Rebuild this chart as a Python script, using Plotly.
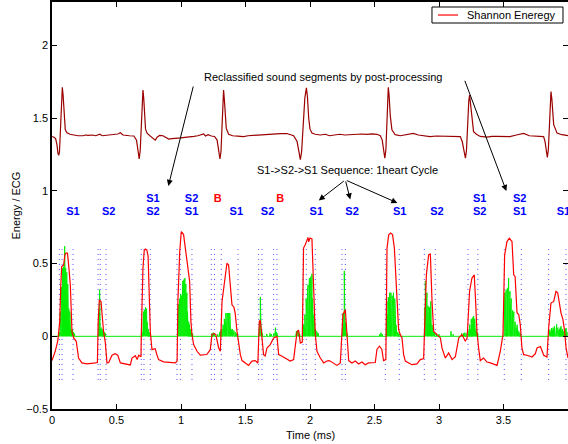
import plotly.graph_objects as go

# ---------------- data ----------------
ecg_t = [0.000,0.015,0.028,0.038,0.046,0.052,0.058,0.066,0.074,0.080,0.086,0.094,0.103,0.116,0.140,0.170,0.200,0.240,0.260,0.280,0.310,0.340,0.370,0.390,0.420,0.450,0.480,0.510,0.530,0.550,0.600,0.635,0.655,0.668,0.676,0.684,0.692,0.700,0.705,0.711,0.718,0.725,0.738,0.762,0.785,0.800,0.815,0.835,0.860,0.880,0.905,0.930,0.960,0.980,1.000,1.030,1.070,1.100,1.130,1.160,1.175,1.190,1.210,1.235,1.260,1.280,1.292,1.302,1.310,1.318,1.325,1.330,1.336,1.343,1.351,1.369,1.400,1.440,1.485,1.520,1.560,1.600,1.650,1.690,1.730,1.770,1.820,1.850,1.873,1.900,1.915,1.925,1.935,1.948,1.960,1.972,1.980,1.990,2.000,2.015,2.040,2.080,2.120,2.150,2.190,2.230,2.270,2.310,2.350,2.400,2.440,2.480,2.520,2.545,2.560,2.572,2.580,2.588,2.595,2.602,2.607,2.613,2.622,2.635,2.660,2.700,2.730,2.760,2.800,2.840,2.880,2.930,2.980,3.030,3.080,3.120,3.165,3.180,3.195,3.205,3.213,3.222,3.231,3.237,3.244,3.255,3.268,3.290,3.320,3.372,3.410,3.450,3.500,3.550,3.600,3.656,3.700,3.750,3.811,3.822,3.832,3.840,3.848,3.855,3.862,3.868,3.875,3.882,3.889,3.915,3.953,4.000]
ecg_v = [1.375,1.370,1.360,1.320,1.260,1.245,1.270,1.450,1.620,1.713,1.660,1.520,1.420,1.400,1.390,1.385,1.380,1.380,1.385,1.382,1.385,1.380,1.390,1.380,1.382,1.385,1.390,1.392,1.400,1.385,1.380,1.378,1.350,1.270,1.220,1.280,1.480,1.650,1.694,1.640,1.500,1.425,1.396,1.378,1.360,1.350,1.370,1.383,1.380,1.370,1.357,1.360,1.360,1.360,1.365,1.368,1.370,1.375,1.380,1.390,1.393,1.378,1.387,1.378,1.375,1.350,1.290,1.220,1.270,1.460,1.640,1.694,1.630,1.500,1.430,1.390,1.380,1.377,1.374,1.380,1.383,1.385,1.388,1.390,1.392,1.395,1.395,1.385,1.380,1.340,1.270,1.215,1.270,1.470,1.640,1.710,1.650,1.500,1.425,1.398,1.390,1.385,1.390,1.380,1.385,1.390,1.385,1.388,1.390,1.392,1.390,1.393,1.390,1.380,1.350,1.270,1.225,1.280,1.480,1.660,1.713,1.660,1.520,1.420,1.387,1.380,1.385,1.390,1.396,1.385,1.380,1.374,1.378,1.376,1.378,1.375,1.374,1.340,1.270,1.225,1.280,1.470,1.620,1.660,1.600,1.470,1.408,1.390,1.375,1.370,1.376,1.376,1.376,1.374,1.385,1.396,1.380,1.376,1.374,1.340,1.280,1.230,1.290,1.480,1.630,1.684,1.630,1.520,1.456,1.398,1.387,1.380]

energy_t = [0.000,0.026,0.045,0.060,0.068,0.075,0.090,0.100,0.108,0.120,0.128,0.135,0.142,0.155,0.168,0.188,0.200,0.206,0.232,0.271,0.336,0.352,0.358,0.367,0.380,0.392,0.400,0.413,0.426,0.440,0.465,0.490,0.510,0.530,0.570,0.607,0.620,0.646,0.660,0.672,0.690,0.692,0.705,0.715,0.723,0.735,0.745,0.755,0.762,0.775,0.800,0.813,0.826,0.865,0.956,0.970,0.976,0.990,1.002,1.020,1.033,1.051,1.067,1.077,1.085,1.098,1.124,1.150,1.200,1.227,1.240,1.255,1.270,1.292,1.305,1.318,1.330,1.343,1.356,1.369,1.382,1.395,1.410,1.420,1.434,1.447,1.460,1.473,1.498,1.524,1.550,1.575,1.596,1.607,1.615,1.627,1.640,1.653,1.666,1.692,1.718,1.744,1.757,1.780,1.821,1.847,1.873,1.886,1.900,1.912,1.925,1.940,1.950,1.963,1.976,1.985,1.990,2.000,2.015,2.028,2.041,2.054,2.080,2.106,2.130,2.150,2.183,2.209,2.235,2.255,2.274,2.287,2.300,2.325,2.351,2.377,2.403,2.428,2.454,2.506,2.519,2.539,2.557,2.570,2.588,2.597,2.610,2.625,2.640,2.654,2.674,2.687,2.700,2.713,2.726,2.739,2.765,2.790,2.829,2.855,2.881,2.889,2.902,2.920,2.933,2.946,2.959,2.985,3.011,3.023,3.049,3.075,3.101,3.127,3.153,3.178,3.204,3.218,3.237,3.255,3.273,3.284,3.294,3.307,3.320,3.346,3.372,3.398,3.424,3.450,3.475,3.496,3.509,3.527,3.545,3.566,3.579,3.590,3.605,3.618,3.630,3.643,3.656,3.682,3.721,3.747,3.760,3.786,3.812,3.837,3.850,3.868,3.889,3.907,3.920,3.935,3.946,3.961,3.974,3.985,4.000]
energy_v = [-0.167,-0.100,-0.030,0.100,0.350,0.480,0.490,0.560,0.572,0.572,0.500,0.400,0.355,0.030,-0.011,-0.034,-0.120,-0.149,-0.183,-0.190,-0.183,-0.180,0.100,0.250,0.240,0.120,0.030,-0.040,-0.183,-0.180,-0.130,-0.120,-0.130,-0.183,-0.193,-0.197,-0.150,-0.133,-0.160,-0.130,-0.140,0.000,0.470,0.590,0.600,0.595,0.550,0.100,0.034,-0.092,-0.085,-0.126,-0.160,-0.176,-0.183,-0.170,0.240,0.580,0.720,0.700,0.607,0.492,0.378,0.103,0.012,-0.057,-0.103,-0.130,-0.125,-0.092,0.012,0.020,0.012,-0.080,-0.103,0.240,0.330,0.400,0.503,0.490,0.378,0.217,0.200,0.160,0.034,-0.057,-0.126,-0.167,-0.183,-0.200,-0.170,-0.167,-0.183,0.103,0.110,0.012,-0.126,-0.135,-0.080,-0.057,-0.011,0.000,-0.126,-0.135,-0.153,-0.170,-0.160,-0.080,0.034,0.040,-0.046,-0.040,0.607,0.630,0.660,0.680,0.650,0.676,0.670,0.355,0.012,-0.103,-0.149,-0.183,-0.170,-0.167,-0.183,-0.200,-0.183,0.149,0.183,0.012,-0.167,-0.183,-0.170,-0.190,-0.177,-0.195,-0.183,-0.180,-0.090,-0.068,-0.090,-0.167,-0.160,0.607,0.698,0.710,0.700,0.607,0.286,0.046,0.012,-0.011,-0.126,-0.170,-0.183,-0.195,-0.190,-0.160,-0.153,0.030,0.423,0.561,0.566,0.240,0.034,0.012,-0.011,-0.080,-0.149,-0.115,-0.160,-0.140,-0.011,0.012,-0.034,-0.011,0.310,0.400,0.423,0.240,0.034,-0.080,-0.167,-0.150,-0.177,-0.183,-0.190,-0.200,-0.103,0.012,0.561,0.652,0.675,0.652,0.423,0.410,0.160,0.150,0.080,-0.080,-0.126,-0.130,-0.142,-0.120,-0.080,-0.070,-0.130,-0.142,0.057,0.229,0.240,0.310,0.300,0.217,0.160,0.115,0.034,-0.080,-0.149]

pcg_t = [0.058,0.064,0.069,0.073,0.078,0.082,0.086,0.090,0.094,0.098,0.102,0.106,0.110,0.114,0.118,0.122,0.126,0.130,0.134,0.138,0.142,0.146,0.152,0.158,0.166,0.175,
         0.362,0.366,0.369,0.373,0.377,0.382,0.388,0.395,0.405,0.415,
         0.698,0.705,0.709,0.713,0.717,0.721,0.725,0.729,0.733,0.737,0.741,0.746,0.752,0.760,
         0.978,0.982,0.986,0.990,0.994,0.998,1.002,1.006,1.010,1.014,1.018,1.022,1.026,1.030,1.034,1.038,1.042,1.046,1.050,1.055,1.060,1.066,1.072,1.080,1.090,
         1.240,1.250,1.260,1.285,1.300,1.310,
         1.318,1.325,1.330,1.336,1.342,1.348,1.353,1.358,1.363,1.368,1.373,1.378,1.383,1.388,1.393,1.398,1.405,1.410,1.420,1.430,
         1.605,1.610,1.615,1.620,1.626,1.632,
         1.665,1.690,1.700,1.720,1.728,1.733,1.738,1.745,
         1.890,1.895,1.900,1.905,1.912,1.920,
         1.944,1.950,1.955,1.960,1.965,1.970,1.975,1.980,1.985,1.990,1.995,2.000,2.005,2.010,2.015,2.020,2.025,2.030,2.035,2.040,2.046,2.055,2.065,
         2.252,2.257,2.262,2.266,2.270,2.275,2.280,2.290,
         2.540,2.550,2.560,
         2.592,2.597,2.602,2.607,2.612,2.617,2.622,2.627,2.632,2.637,2.642,2.647,2.652,2.657,2.662,2.667,2.672,2.680,2.690,
         2.887,2.891,2.894,2.898,2.902,2.907,2.911,2.915,2.920,2.924,2.928,2.932,2.936,2.940,2.945,2.950,2.958,2.966,
         2.980,3.000,3.093,3.110,3.175,3.190,3.200,3.210,
         3.232,3.238,3.244,3.250,3.256,3.262,3.268,3.272,3.277,3.282,3.288,3.294,3.300,
         3.505,3.510,3.515,3.520,3.525,3.530,3.535,3.540,3.545,3.550,3.555,3.560,3.565,3.570,3.575,3.580,3.585,3.590,3.597,3.605,3.612,3.620,3.630,
         3.855,3.860,3.866,3.872,3.878,3.884,3.890,3.895,3.900,3.907,3.912,3.917,3.922,3.928,3.934,3.940,3.946,3.952,3.958,3.964,3.970,3.978,3.985,3.992]
pcg_v = [0.03,0.17,0.10,0.34,0.20,0.47,0.30,0.48,0.35,0.62,0.40,0.47,0.28,0.44,0.25,0.36,0.18,0.19,0.12,0.17,0.08,0.05,0.04,0.05,0.03,0.02,
         0.05,0.12,0.32,0.10,0.05,0.06,0.04,0.05,0.03,0.02,
         0.03,0.08,0.17,0.10,0.18,0.12,0.20,0.14,0.19,0.10,0.08,0.05,0.03,0.02,
         0.10,0.22,0.14,0.26,0.18,0.29,0.20,0.28,0.24,0.38,0.30,0.39,0.33,0.40,0.30,0.36,0.25,0.30,0.17,0.16,0.10,0.08,0.05,0.03,0.02,
         0.02,0.025,0.02,0.015,0.03,0.04,
         0.05,0.08,0.06,0.12,0.10,0.16,0.12,0.16,0.13,0.16,0.12,0.16,0.07,0.05,0.04,0.05,0.03,0.04,0.03,0.02,
         0.06,0.10,0.27,0.08,0.04,0.02,
         0.015,0.02,0.015,0.02,0.03,0.06,0.03,0.02,
         0.02,0.035,0.03,0.04,0.03,0.015,
         0.03,0.08,0.06,0.15,0.10,0.26,0.18,0.30,0.355,0.25,0.40,0.30,0.41,0.35,0.43,0.26,0.22,0.15,0.10,0.05,0.04,0.03,0.02,
         0.05,0.16,0.08,0.45,0.12,0.10,0.05,0.02,
         0.015,0.025,0.015,
         0.10,0.24,0.15,0.27,0.20,0.30,0.22,0.30,0.20,0.28,0.19,0.30,0.18,0.26,0.15,0.08,0.05,0.03,0.02,
         0.05,0.20,0.38,0.15,0.25,0.30,0.12,0.21,0.10,0.20,0.195,0.12,0.24,0.10,0.08,0.05,0.03,0.02,
         0.02,0.015,0.034,0.015,0.02,0.02,0.025,0.02,
         0.04,0.08,0.05,0.12,0.08,0.13,0.14,0.10,0.12,0.06,0.05,0.03,0.02,
         0.10,0.30,0.20,0.32,0.25,0.33,0.28,0.40,0.30,0.31,0.20,0.26,0.15,0.18,0.12,0.17,0.09,0.10,0.06,0.08,0.04,0.03,0.02,
         0.03,0.046,0.03,0.057,0.04,0.06,0.05,0.069,0.045,0.07,0.085,0.05,0.06,0.04,0.05,0.06,0.069,0.04,0.05,0.034,0.03,0.045,0.057,0.03]

boundary_t = [0.057,0.078,0.163,0.357,0.374,0.419,0.692,0.713,0.762,0.969,0.995,1.085,1.235,1.260,1.312,1.442,1.602,1.628,1.718,1.744,1.946,1.971,2.041,2.248,2.274,2.584,2.692,2.886,2.971,3.225,3.301,3.506,3.638,3.850,3.984]
boundary_low, boundary_high = -0.3, 0.6

label_text = ["S1","S2","S1","S2","S2","S1","B","S1","S2","B","S1","S2","S1","S2","S1","S2","S2","S1","S1"]
label_t = [0.163,0.439,0.783,0.783,1.082,1.082,1.284,1.429,1.671,1.770,2.049,2.326,2.695,2.984,3.315,3.315,3.625,3.625,3.965]
label_v = [0.852,0.852,0.944,0.852,0.944,0.852,0.944,0.852,0.852,0.944,0.852,0.852,0.852,0.852,0.944,0.852,0.944,0.852,0.852]

x_ticks = [0, 0.5, 1, 1.5, 2, 2.5, 3, 3.5, 4]
y_ticks = [-0.5, 0, 0.5, 1, 1.5, 2]
legend_label = "Shannon Eneregy"

# ---------------- figure ----------------
FONT = "Liberation Sans, Arial, Helvetica, sans-serif"
fig = go.Figure()

# segment boundaries (blue dotted)
bx, by = [], []
for t in boundary_t:
    bx += [t, t, None]
    by += [boundary_low, boundary_high, None]
fig.add_trace(go.Scatter(x=bx, y=by, mode="lines", showlegend=False, hoverinfo="skip",
                         line=dict(color="#4a4aff", width=1, dash="1px,4px")))

# heart sound (green): stems from baseline
pairs = sorted(zip(pcg_t, pcg_v))
gx, gy = [0.0], [0.0]
for t, v in pairs:
    gx += [t - 0.0012, t, t + 0.0012]
    gy += [0.0, v, 0.0]
gx.append(4.0); gy.append(0.0)
fig.add_trace(go.Scatter(x=gx, y=gy, mode="lines", showlegend=False,
                         line=dict(color="#00ee00", width=1)))

# Shannon energy (red)
fig.add_trace(go.Scatter(x=energy_t, y=energy_v, mode="lines", name=legend_label, showlegend=False,
                         line=dict(color="#ff0000", width=1.2)))

# ECG (dark red)
fig.add_trace(go.Scatter(x=ecg_t, y=ecg_v, mode="lines", showlegend=False,
                         line=dict(color="#9a0000", width=1.2)))

# labels
label_colors = ["#ff0000" if s == "B" else "#0000ff" for s in label_text]
fig.add_trace(go.Scatter(x=label_t, y=label_v, mode="text", text=label_text, showlegend=False,
                         textfont=dict(family=FONT, size=11, color=label_colors, weight="bold"),
                         textposition="middle center", hoverinfo="skip"))

# annotations
fig.add_annotation(x=2.104, y=1.786, text="Reclassified sound segments by post-processing",
                   showarrow=False, font=dict(family=FONT, size=11, color="black"))
fig.add_annotation(x=2.289, y=1.145, text="S1->S2->S1 Sequence: 1heart Cycle",
                   showarrow=False, font=dict(family=FONT, size=11, color="black"))

arrows = [  # (tail_t, tail_v, head_t, head_v)
    (1.098, 1.729, 0.902, 1.035),
    (3.196, 1.768, 3.522, 1.000),
    (2.274, 1.076, 2.068, 0.935),
    (2.274, 1.076, 2.312, 0.942),
    (2.274, 1.076, 2.677, 0.918),
]
for at, av, ht, hv in arrows:
    fig.add_annotation(x=ht, y=hv, ax=at, ay=av, xref="x", yref="y", axref="x", ayref="y",
                       text="", showarrow=True, arrowhead=2, arrowsize=1.2, arrowwidth=1,
                       arrowcolor="black")

# legend box (MATLAB-style, compact)
fig.add_shape(type="rect", xref="paper", yref="paper", x0=0.7364, x1=0.9903, y0=0.9484, y1=0.9877,
              line=dict(color="black", width=1), fillcolor="white", layer="above")
fig.add_shape(type="line", xref="paper", yref="paper", x0=0.748, x1=0.7868, y0=0.968, y1=0.968,
              line=dict(color="#ff0000", width=1.2), layer="above")
fig.add_annotation(xref="paper", yref="paper", x=0.8004, y=0.968, text=legend_label,
                   showarrow=False, xanchor="left", yanchor="middle",
                   font=dict(family=FONT, size=11, color="black"))

# axis titles
fig.add_annotation(xref="paper", yref="paper", x=-0.0717, y=0.5, text="Energy / ECG",
                   textangle=-90, showarrow=False, xanchor="center", yanchor="middle",
                   font=dict(family=FONT, size=11, color="black"))
fig.add_annotation(xref="paper", yref="paper", x=0.5, y=-0.064, text="Time (ms)",
                   showarrow=False, xanchor="center", yanchor="middle",
                   font=dict(family=FONT, size=11, color="black"))

axis_common = dict(showline=True, linecolor="black", linewidth=1.5, mirror="ticks",
                   ticks="inside", ticklen=5, tickcolor="black", tickwidth=1,
                   showgrid=False, zeroline=False, automargin=False,
                   tickfont=dict(family=FONT, size=11, color="black"))
fig.update_xaxes(range=[0, 4], tickvals=x_ticks, ticktext=[str(v) for v in x_ticks], **axis_common)
fig.update_yaxes(range=[-0.5, 2.3], tickvals=y_ticks,
                 ticktext=["\u22120.5", "0", "0.5", "1", "1.5", "2"], **axis_common)

fig.update_layout(
    width=568, height=444,
    margin=dict(l=52, r=0, t=2, b=35, autoexpand=False),
    paper_bgcolor="white", plot_bgcolor="white",
    font=dict(family=FONT, size=11, color="black"),
    showlegend=False,
)

fig.write_html("out.html", config={"displayModeBar": False},
               post_script="document.body.style.margin='0px';document.body.style.overflow='hidden';")
